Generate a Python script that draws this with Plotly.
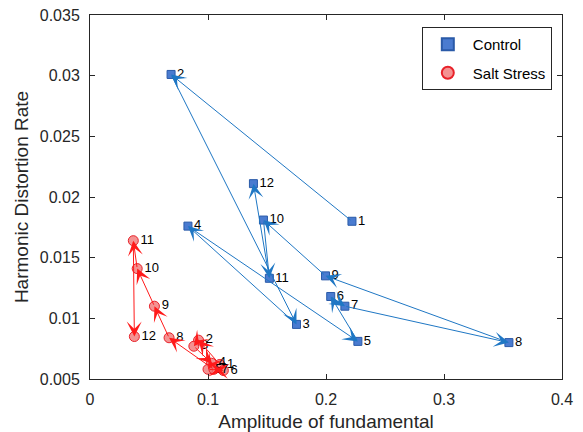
import plotly.graph_objects as go

# ---- data ----
months = [str(i) for i in range(1, 13)]
control_amp = [0.222, 0.0687, 0.175, 0.083, 0.227, 0.204, 0.216, 0.355, 0.1996, 0.147, 0.152, 0.1385]
control_hdr = [0.0180, 0.0301, 0.0095, 0.0176, 0.0081, 0.0118, 0.0110, 0.0080, 0.0135, 0.0181, 0.0133, 0.0211]
salt_amp = [0.110, 0.092, 0.088, 0.103, 0.100, 0.113, 0.105, 0.067, 0.0546, 0.040, 0.0367, 0.0376]
salt_hdr = [0.0062, 0.0082, 0.0077, 0.0063, 0.0058, 0.0057, 0.0058, 0.0084, 0.0110, 0.0141, 0.0164, 0.0085]

x_ticks = [0, 0.1, 0.2, 0.3, 0.4]
x_ticktext = ["0", "0.1", "0.2", "0.3", "0.4"]
y_ticks = [0.005, 0.01, 0.015, 0.02, 0.025, 0.03, 0.035]
y_ticktext = ["0.005", "0.01", "0.015", "0.02", "0.025", "0.03", "0.035"]

FONT = "Liberation Sans, Arial, sans-serif"
CTRL_LINE = "#1f77c4"
SALT_LINE = "#ff1a1a"
AX = "#262626"

fig = go.Figure()

fig.add_trace(go.Scatter(
    x=control_amp, y=control_hdr, mode="markers+text", name="Control",
    legendgroup="c",
    text=months, textposition="middle right",
    textfont=dict(family=FONT, size=13, color="black"),
    marker=dict(symbol="square", size=8, color="#4a7bd0", line=dict(color="#2a5aa8", width=1)),
))
fig.add_trace(go.Scatter(
    x=salt_amp, y=salt_hdr, mode="markers+text", name="Salt Stress",
    legendgroup="s",
    text=months, textposition="middle right",
    textfont=dict(family=FONT, size=13, color="black"),
    marker=dict(symbol="circle", size=10, color="rgba(240,110,110,0.75)", line=dict(color="#e8222a", width=1)),
))

annotations = []
for xs, ys, col in [(control_amp, control_hdr, CTRL_LINE), (salt_amp, salt_hdr, SALT_LINE)]:
    for i in range(len(xs) - 1):
        annotations.append(dict(
            x=xs[i + 1], y=ys[i + 1], ax=xs[i], ay=ys[i],
            xref="x", yref="y", axref="x", ayref="y",
            text="", showarrow=True, arrowhead=3, arrowsize=2.5,
            arrowwidth=1, arrowcolor=col, standoff=0, startstandoff=0,
        ))

# page body has an 8px default margin; figure offsets compensate for it
fig.update_layout(
    width=575, height=424,
    margin=dict(l=82, r=21, t=7, b=53),
    paper_bgcolor="white", plot_bgcolor="white",
    font=dict(family=FONT, size=15, color=AX),
    annotations=annotations,
    showlegend=True,
    legend=dict(
        x=0.703, y=0.967, xanchor="left", yanchor="top",
        bgcolor="white", bordercolor=AX, borderwidth=1,
        font=dict(family=FONT, size=15, color="black"),
        itemsizing="constant", itemwidth=40, tracegroupgap=6,
    ),
    xaxis=dict(
        range=[0, 0.4], tickvals=x_ticks, ticktext=x_ticktext,
        ticks="inside", ticklen=5, tickcolor=AX, ticklabelstandoff=6,
        ticklabeloverflow="allow",
        showline=True, linecolor=AX, linewidth=1, mirror="ticks",
        showgrid=False, zeroline=False, automargin=False,
        title=dict(text="Amplitude of fundamental", font=dict(family=FONT, size=19, color=AX), standoff=12),
        tickfont=dict(family=FONT, size=16, color=AX),
    ),
    yaxis=dict(
        range=[0.005, 0.035], tickvals=y_ticks, ticktext=y_ticktext,
        ticks="inside", ticklen=5, tickcolor=AX, ticklabelstandoff=6,
        ticklabeloverflow="allow",
        showline=True, linecolor=AX, linewidth=1, mirror="ticks",
        showgrid=False, zeroline=False, automargin=False,
        title=dict(text="Harmonic Distortion Rate", font=dict(family=FONT, size=19, color=AX), standoff=6),
        tickfont=dict(family=FONT, size=16, color=AX),
    ),
)

fig.write_html("out.html")
